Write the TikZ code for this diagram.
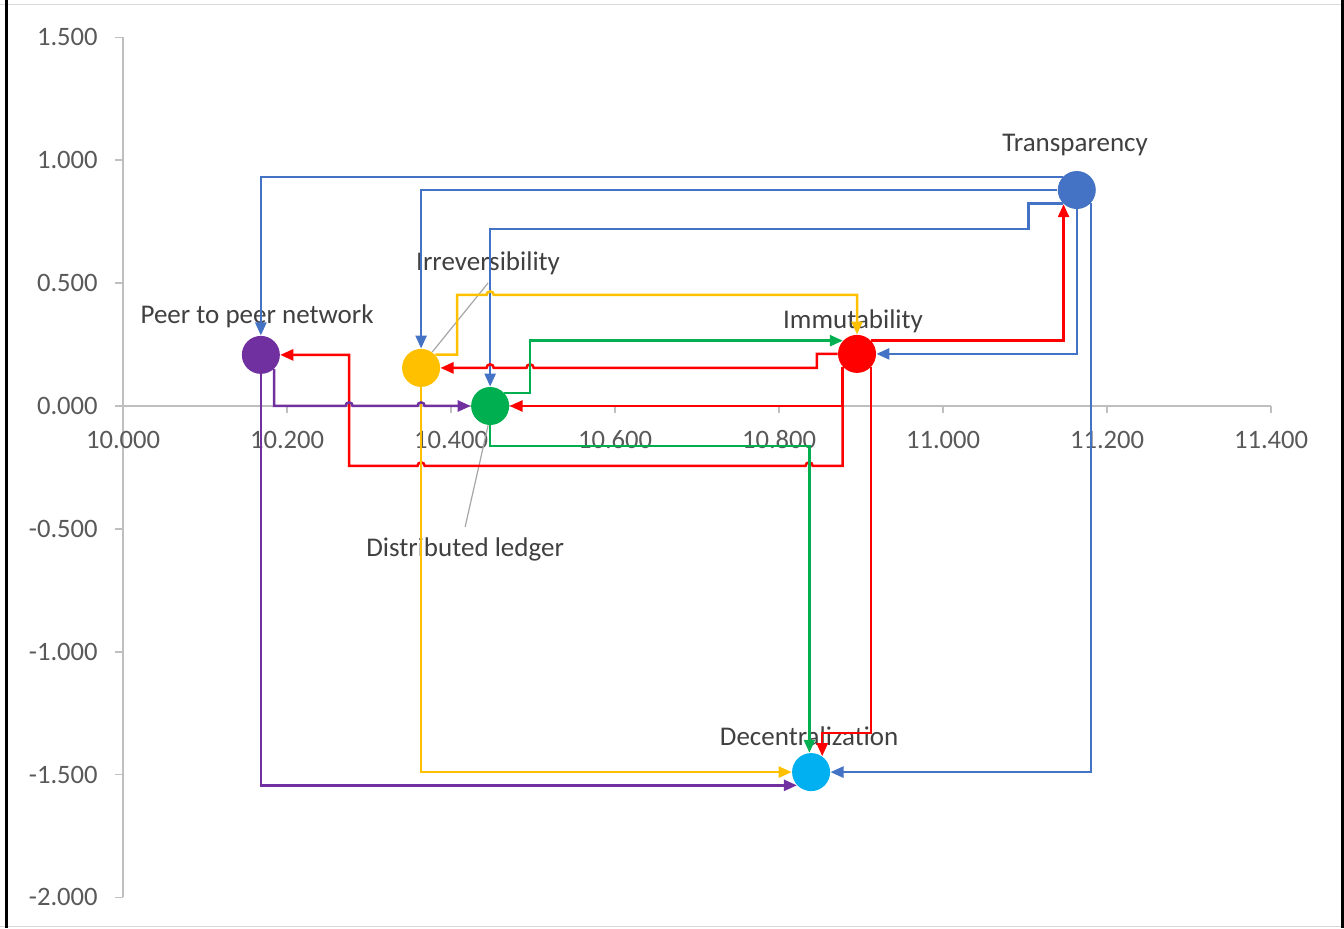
\documentclass[tikz,border=0pt]{standalone}
\usepackage{fontspec}
\setmainfont{Carlito}
\usetikzlibrary{arrows.meta,calc}
\definecolor{tblue}{HTML}{4472C4}
\definecolor{tred}{HTML}{FF0000}
\definecolor{tgreen}{HTML}{00B050}
\definecolor{tyellow}{HTML}{FFC000}
\definecolor{tpurple}{HTML}{7030A0}
\definecolor{tcyan}{HTML}{00B0F0}
\definecolor{axisgray}{HTML}{BFBFBF}
\definecolor{ticktext}{HTML}{595959}
\definecolor{labeltext}{HTML}{404040}
% line jumps over a crossing, going left or right
\newcommand{\hopl}[1]{-- ([xshift=1.8pt]#1) arc[start angle=0,end angle=180,radius=1.8pt]}
\newcommand{\hopr}[1]{-- ([xshift=-1.8pt]#1) arc[start angle=180,end angle=0,radius=1.8pt]}
\tikzset{
  dot/.style={circle,inner sep=0pt,minimum size=19pt},
  link/.style={line width=1.25pt,-{Triangle[length=6.5pt,width=5.5pt]}},
  lbl/.style={font=\fontsize{13.5}{16}\selectfont,text=labeltext,inner sep=1pt},
  tick/.style={font=\fontsize{13.3}{16}\selectfont,text=ticktext,inner sep=0pt},
  leader/.style={black!35,line width=0.6pt}
}
\begin{document}
\begin{tikzpicture}[x=410pt,y=122.85pt]
\useasboundingbox (9.85,-2.1246) rectangle (11.489,1.6524);
\draw[black!15] (9.85,1.636) -- (11.489,1.636);
\draw[black!15] (9.85,-2.1164) -- (11.489,-2.1164);
\draw[black,line width=1.5pt] (9.8573,1.6524) -- (9.8573,-2.1246);
\draw[black,line width=1.5pt] (11.4866,1.6524) -- (11.4866,-2.1246);
% axes
\draw[axisgray,line width=0.9pt] (10,-2) -- (10,1.5);
\draw[axisgray,line width=0.9pt] (10,0) -- (11.4,0);
\foreach \v/\t in {1.5/1.500,1/1.000,0.5/0.500,0/0.000,-0.5/-0.500,-1/-1.000,-1.5/-1.500,-2/-2.000}{
  \draw[axisgray,line width=0.9pt] (9.9902,\v) -- (10,\v);
  \node[tick,anchor=east] at (9.9695,\v) {\t};}
\foreach \x/\t in {10/10.000,10.2/10.200,10.4/10.400,10.6/10.600,10.8/10.800,11/11.000,11.2/11.200,11.4/11.400}{
  \draw[axisgray,line width=0.9pt] (\x,0) -- (\x,-0.0285);
  \node[tick] at (\x,-0.1384) {\t};}
% labels
\node[lbl] (peerlbl) at (10.1634,0.3663) {Peer to peer network};
\node[lbl] (irrlbl) at (10.4451,0.582) {Irreversibility};
\node[lbl] (immutlbl) at (10.8902,0.346) {Immutability};
\node[lbl] (transplbl) at (11.161,1.0623) {Transparency};
\node[lbl] (decentlbl) at (10.8366,-1.343) {Decentralization};
\node[lbl] (ledgerlbl) at (10.4171,-0.582) {Distributed ledger};
% points
\node[dot,fill=tpurple] (peer) at (10.168,0.208) {};
\node[dot,fill=tyellow] (irr) at (10.3634,0.155) {};
\node[dot,fill=tgreen] (ledger) at (10.4476,0) {};
\node[dot,fill=tred] (immut) at (10.895,0.212) {};
\node[dot,fill=tblue] (transp) at (11.163,0.879) {};
\node[dot,fill=tcyan] (decent) at (10.839,-1.49) {};
\draw[leader] ([yshift=-3pt]irrlbl.south) -- (irr.55);
\draw[leader] ([yshift=4pt]ledgerlbl.north) -- (ledger.-96);
% transparency
\draw[link,tblue] (transp.137) -| (peer.north);
\draw[link,tblue] (transp.west) -| (irr.north);
\draw[link,tblue] (transp.223) -| (11.104,0.72) -| (ledger.north);
\draw[link,tblue] (transp.south) |- (immut.east);
\draw[link,tblue] (transp.-43) |- (decent.east);
% immutability
\draw[link,tred] (immut.43) -| (transp.227);
\draw[link,tred] (immut.west) -| (10.846,0.155) \hopl{10.4963,0.155} \hopl{10.4476,0.155} -- (irr.east);
\draw[link,tred] (immut.222) |- (ledger.east);
\draw[link,tred] (immut.222) -- (immut.222 |- 0,-0.244) \hopl{10.8366,-0.244} \hopl{10.3634,-0.244} -- (10.2756,-0.244) |- (peer.east);
\draw[link,tred] (immut.-43) |- (decent.55 |- 0,-1.331) -- (decent.55);
% distributed ledger
\draw[link,tgreen] (ledger.43) -| (10.4963,0.2645) |- (immut.137);
\draw[link,tgreen] (ledger.south) |- (decent.95 |- 0,-0.163) -- (decent.95);
% irreversibility
\draw[link,tyellow] (irr.43) -| (10.4073,0.4518) \hopr{10.4476,0.4518} -| (immut.north);
\draw[link,tyellow] (irr.south) |- (decent.west);
% peer to peer network
\draw[link,tpurple] (peer.-47) -- (peer.-47 |- ledger.west) \hopr{10.2756,0} \hopr{10.3634,0} -- (ledger.west);
\draw[link,tpurple] (peer.south) |- (decent.223);
\end{tikzpicture}
\end{document}
